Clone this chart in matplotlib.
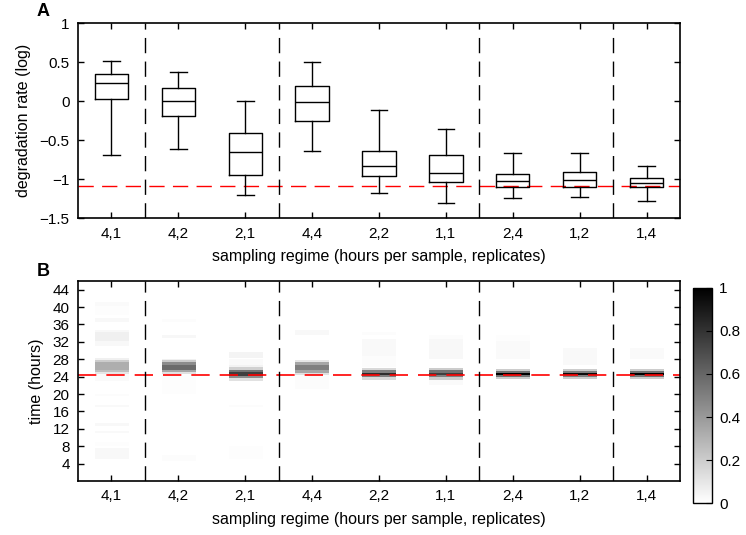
import numpy as np
import matplotlib
matplotlib.use('Agg')
import matplotlib.pyplot as plt

plt.rcParams['font.family'] = ['Liberation Sans', 'DejaVu Sans']
plt.rcParams['font.size'] = 11

# categorias (horas por amostra, replicatas)
regimes = ['4,1', '4,2', '2,1', '4,4', '2,2', '1,1', '2,4', '1,2', '1,4']

# painel A - estatisticas dos boxplots (log)
whisk_hi = [0.513, 0.37, 0.0, 0.50, -0.117, -0.352, -0.657, -0.657, -0.835]
q3 = [0.352, 0.165, -0.404, 0.196, -0.635, -0.687, -0.935, -0.904, -0.987]
mediana = [0.239, 0.0, -0.652, -0.013, -0.835, -0.917, -1.017, -1.004, -1.048]
q1 = [0.03, -0.187, -0.939, -0.252, -0.952, -1.035, -1.096, -1.096, -1.096]
whisk_lo = [-0.687, -0.617, -1.204, -0.635, -1.17, -1.304, -1.239, -1.222, -1.274]
taxa_real = -1.083

# painel B - faixas (inicio, fim, intensidade) por regime
faixas_41 = [(24.5, 25.0, 0.1), (25.0, 25.5, 0.25), (25.5, 27.2, 0.32), (27.2, 27.7, 0.2),
             (27.7, 28.2, 0.06), (31.0, 32.0, 0.03), (32.0, 34.0, 0.06), (34.0, 34.5, 0.03),
             (36.5, 37.2, 0.03), (38.0, 40.0, 0.01), (40.0, 41.0, 0.02), (23.0, 24.5, 0.02),
             (19.5, 20.0, 0.012), (17.0, 17.5, 0.025), (12.5, 13.2, 0.03), (11.0, 11.5, 0.025),
             (8.0, 9.0, 0.01), (5.0, 7.5, 0.03)]
faixas_42 = [(24.5, 25.0, 0.12), (25.0, 25.5, 0.35), (25.5, 26.5, 0.58), (26.5, 27.2, 0.45),
             (27.2, 27.7, 0.2), (27.7, 28.0, 0.06), (32.7, 33.3, 0.035), (36.5, 37.0, 0.015),
             (20.0, 24.5, 0.01), (4.5, 6.0, 0.012)]
faixas_21 = [(23.0, 23.5, 0.12), (23.5, 24.0, 0.45), (24.0, 25.0, 0.75), (25.0, 25.5, 0.55),
             (25.5, 26.0, 0.18), (26.0, 26.5, 0.05), (26.5, 28.0, 0.02), (28.2, 29.6, 0.045),
             (17.0, 17.5, 0.012), (5.0, 8.0, 0.01)]
faixas_44 = [(24.3, 24.8, 0.12), (24.8, 25.5, 0.35), (25.5, 26.5, 0.5), (26.5, 27.3, 0.35),
             (27.3, 27.8, 0.1), (33.5, 34.5, 0.03), (21.0, 24.3, 0.012)]
faixas_22 = [(23.2, 23.7, 0.15), (23.7, 24.2, 0.5), (24.2, 24.8, 0.82), (24.8, 25.4, 0.5),
             (25.4, 25.9, 0.15), (26.0, 28.5, 0.012), (28.5, 32.5, 0.025), (33.5, 34.0, 0.012)]
faixas_11 = [(22.0, 23.2, 0.02), (23.2, 23.7, 0.2), (23.7, 24.2, 0.5), (24.2, 24.8, 0.75),
             (24.8, 25.4, 0.55), (25.4, 25.9, 0.2), (28.0, 32.5, 0.03), (32.5, 33.5, 0.012)]
faixas_24 = [(23.3, 23.8, 0.2), (23.8, 24.2, 0.55), (24.2, 24.7, 1.0), (24.7, 25.1, 0.55),
             (25.1, 25.6, 0.2), (28.0, 32.0, 0.02), (32.0, 33.5, 0.01)]
faixas_12 = [(23.3, 23.8, 0.2), (23.8, 24.2, 0.5), (24.2, 24.7, 0.95), (24.7, 25.1, 0.5),
             (25.1, 25.6, 0.2), (26.5, 30.5, 0.025)]
faixas_14 = [(23.4, 23.8, 0.2), (23.8, 24.2, 0.55), (24.2, 24.7, 1.0), (24.7, 25.1, 0.55),
             (25.1, 25.6, 0.2), (28.0, 30.5, 0.02)]
periodo_real = 24.45

todas_faixas = [faixas_41, faixas_42, faixas_21, faixas_44, faixas_22,
                faixas_11, faixas_24, faixas_12, faixas_14]

fig = plt.figure(figsize=(7.46, 5.35), dpi=100)
axA = fig.add_axes([0.1046, 0.592, 0.8069, 0.3644])
axB = fig.add_axes([0.1046, 0.1009, 0.8069, 0.3739])
cax = fig.add_axes([0.929, 0.0598, 0.0255, 0.4019])

pos = np.arange(1, len(regimes) + 1)
separadores = [1.5, 3.5, 6.5, 8.5]

# ---- painel A
stats = []
for i in range(len(regimes)):
    stats.append({'med': mediana[i], 'q1': q1[i], 'q3': q3[i],
                  'whislo': whisk_lo[i], 'whishi': whisk_hi[i], 'fliers': []})
axA.bxp(stats, positions=pos, widths=0.5, showfliers=False,
        boxprops=dict(color='black', linewidth=1),
        medianprops=dict(color='black', linewidth=1),
        whiskerprops=dict(color='black', linewidth=1, linestyle='-'),
        capprops=dict(color='black', linewidth=1), capwidths=0.25)
axA.axhline(taxa_real, color='#ff0000', linewidth=1, dashes=(11, 6), zorder=0)
for s in separadores:
    axA.axvline(s, color='black', linewidth=1, dashes=(11, 6))
axA.set_xlim(0.5, 9.5)
axA.set_ylim(-1.5, 1)
axA.set_yticks([-1.5, -1, -0.5, 0, 0.5, 1])
axA.set_yticklabels(['\u22121.5', '\u22121', '\u22120.5', '0', '0.5', '1'])
axA.set_xticks(pos)
axA.set_xticklabels(regimes)
axA.set_ylabel('degradation rate (log)', fontsize=11.5, labelpad=6)
axA.set_xlabel('sampling regime (hours per sample, replicates)', fontsize=11.5, labelpad=6)

# ---- painel B
dt = 0.05
tempo = np.arange(0, 46 + dt, dt)
cmap = plt.get_cmap('gray_r')
for i, faixas in enumerate(todas_faixas):
    col = np.zeros(len(tempo) - 1)
    centro = (tempo[:-1] + tempo[1:]) / 2
    for ini, fim, val in faixas:
        col[(centro >= ini) & (centro < fim)] = val
    axB.imshow(col[:, None], extent=[pos[i] - 0.25, pos[i] + 0.25, 0, 46], origin='lower',
               aspect='auto', cmap=cmap, vmin=0, vmax=1, interpolation='nearest')
axB.axhline(periodo_real, color='#ff0000', linewidth=1.2, dashes=(11, 6))
for s in separadores:
    axB.axvline(s, color='black', linewidth=1, dashes=(11, 6))
axB.set_xlim(0.5, 9.5)
axB.set_ylim(0, 46)
axB.set_yticks(np.arange(4, 45, 4))
axB.set_xticks(pos)
axB.set_xticklabels(regimes)
axB.set_ylabel('time (hours)', fontsize=11.5, labelpad=6)
axB.set_xlabel('sampling regime (hours per sample, replicates)', fontsize=11.5, labelpad=6)

for ax in [axA, axB]:
    ax.tick_params(direction='in', top=True, right=True, length=4, width=1, labelsize=11, pad=6)
    for sp in ax.spines.values():
        sp.set_linewidth(1.2)

sm = matplotlib.cm.ScalarMappable(cmap=cmap, norm=matplotlib.colors.Normalize(0, 1))
cb = fig.colorbar(sm, cax=cax, ticks=[0, 0.2, 0.4, 0.6, 0.8, 1])
cb.ax.set_yticklabels(['0', '0.2', '0.4', '0.6', '0.8', '1'])
cb.ax.tick_params(direction='in', length=4, labelsize=11, pad=5)
cb.outline.set_linewidth(1)

fig.text(37 / 746, 1 - 12 / 535, 'A', fontsize=13, fontweight='bold', va='center', ha='left')
fig.text(37 / 746, 1 - 271 / 535, 'B', fontsize=13, fontweight='bold', va='center', ha='left')

fig.savefig('out.png', dpi=100)
